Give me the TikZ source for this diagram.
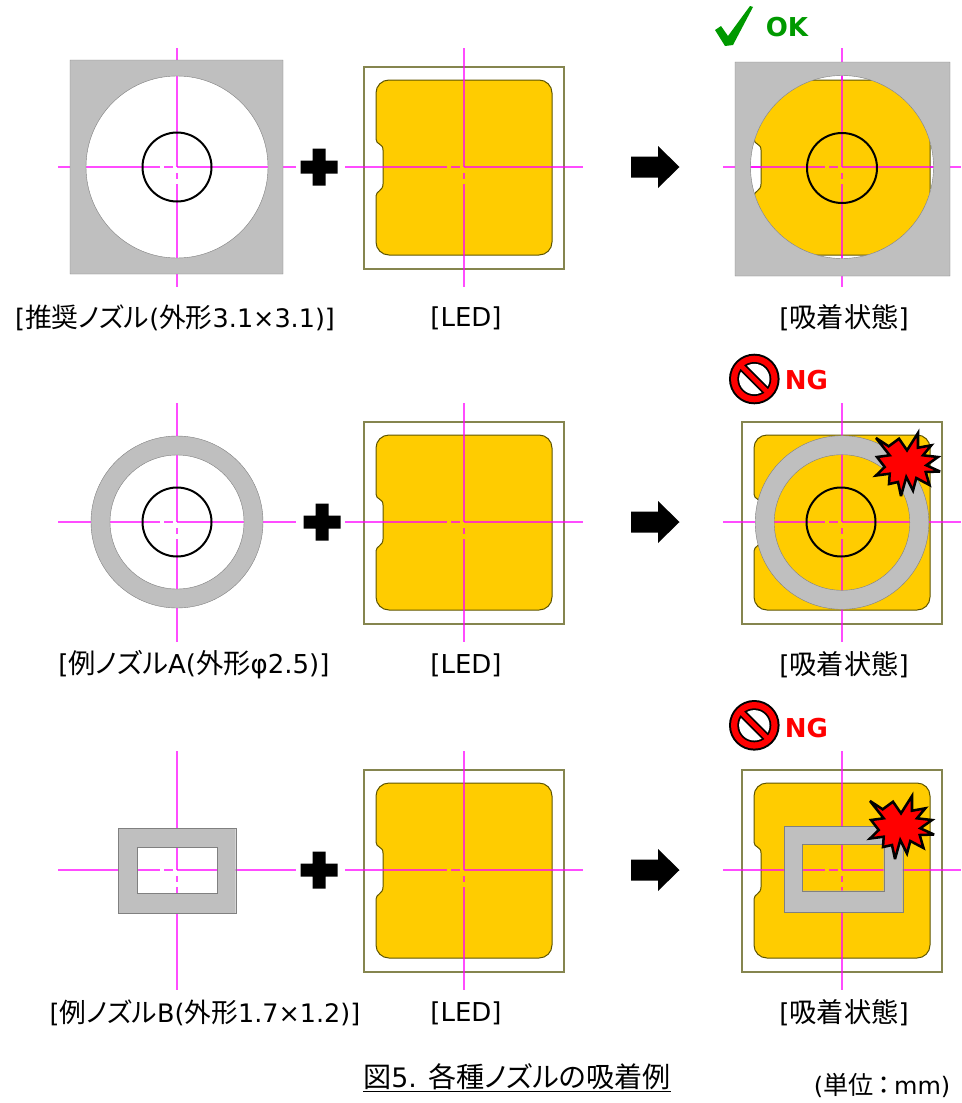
\documentclass[tikz,border=0pt]{standalone}
\usepackage{fontspec}
\setmainfont{DejaVu Sans}
\newfontfamily\jpfont[RawFeature=+palt,Scale=1.05]{Noto Sans CJK JP}
\usepackage{xcolor}
\usepackage{tikz}
\usetikzlibrary{positioning,calc}

\definecolor{ledgold}{HTML}{FFCC00}
\definecolor{ledline}{HTML}{5F5500}
\definecolor{boxline}{HTML}{85854F}
\definecolor{nozzlegray}{HTML}{BFBFBF}
\definecolor{okgreen}{HTML}{009900}
\definecolor{centerpink}{HTML}{FF00FF}

\tikzset{
    nozzle/.style={fill=nozzlegray, draw=gray, line width=0.3pt, even odd rule},
    centerline/.style={draw=centerpink, draw opacity=0.7, line width=1.05pt},
    ledbox/.style={draw=boxline, line width=0.9pt},
    ledpad/.style={fill=ledgold, draw=ledline, line width=0.75pt},
    tipcircle/.style={draw=black, line width=1.5pt},
    solidmark/.style={fill=black},
    burst/.style={fill=red, draw=black, line width=1.9pt, miter limit=4},
    caption/.style={font=\fontsize{19.5}{24}\selectfont, inner sep=0pt},
    longcaption/.style={font=\fontsize{19.1}{24}\selectfont, inner sep=0pt},
    okng/.style={font=\fontsize{19.5}{24}\selectfont\bfseries, inner sep=0pt}
}

% pad outline around the origin of the scope
\newcommand{\padpath}{(-75,-87) -- (75,-87) .. controls (82.2,-87) and (88,-81.2) .. (88,-74)
    -- (88,75) .. controls (88,82.2) and (82.2,88) .. (75,88) -- (-75,88)
    .. controls (-82.2,88) and (-88,82.2) .. (-88,75) -- (-88,29)
    .. controls (-88,24) and (-81,24) .. (-81,17) -- (-81,-17)
    .. controls (-81,-24) and (-88,-22) .. (-88,-28) -- (-88,-74)
    .. controls (-88,-81.2) and (-82.2,-87) .. (-75,-87) -- cycle}

% centre lines with the gaps next to the middle
\newcommand{\centerlines}[3]{
    \begin{scope}[shift={(#1,#2)}]
        \draw[centerline] (-#3,0) -- (-17,0) (-13,0) -- (-4,0) (0,0) -- (#3,0);
        \draw[centerline] (0,-119) -- (0,0) (0,6) -- (0,12) (0,17) -- (0,120);
    \end{scope}
}

\newcommand{\plusmark}[2]{
    \fill[solidmark, shift={(#1,#2)}] (-6.5,-18.5) -- (6.5,-18.5) -- (6.5,-6.5) -- (18.5,-6.5) -- (18.5,6.5)
        -- (6.5,6.5) -- (6.5,18.5) -- (-6.5,18.5) -- (-6.5,6.5) -- (-18.5,6.5) -- (-18.5,-6.5) -- (-6.5,-6.5) -- cycle;
}

\newcommand{\blockarrow}[1]{
    \fill[solidmark, shift={(631,#1)}] (0,-10.5) -- (27,-10.5) -- (27,-21) -- (48.5,0) -- (27,21) -- (27,10.5) -- (0,10.5) -- cycle;
}

\newcommand{\ngmark}[2]{
    \begin{scope}[shift={(#1,#2)}]
        \fill[black] (0,0) circle[radius=25.3];
        \fill[red] (0,0) circle[radius=23.3];
        \fill[black] (0,0) circle[radius=17];
        \fill[white] (0,0) circle[radius=15.2];
        \draw[black, line width=6.2pt] (-11.5,-11.5) -- (11.5,11.5);
        \draw[red, line width=3.6pt] (-13.5,-13.5) -- (13.5,13.5);
    \end{scope}
}

\newcommand{\burstmark}[2]{
    \draw[burst, shift={(#1,#2)}] (-31,-24) -- (-18.3,-15.7) -- (-8,-23.3) -- (0,-11.7) -- (11,-29) -- (11,-14.3)
        -- (24.3,-16.7) -- (16,-6.7) -- (31,-5) -- (19.3,3.3) -- (33,9.5) -- (18.7,10) -- (22.5,23) -- (9.3,16)
        -- (6,28.5) -- (-0.7,15) -- (-6,34) -- (-9,20) -- (-18,22) -- (-17.3,11.7) -- (-31,13.5) -- (-22.3,5)
        -- (-30,-5) -- (-17.3,-6.7) -- cycle;
}

\begin{document}
\begin{tikzpicture}[x=0.75pt, y=-0.75pt]
\useasboundingbox (0,0) rectangle (961,1103);

% Row 1: recommended nozzle
\centerlines{177}{167}{119}
\fill[nozzle] (70,60) rectangle (283,274) (177,167) circle[radius=91];
\draw[tipcircle] (177,167) circle[radius=34.5];
\plusmark{319}{167}
\begin{scope}[shift={(464,167)}]
    \draw[ledbox] (-100,-100) rectangle (100,102);
    \filldraw[ledpad] \padpath;
\end{scope}
\centerlines{464}{167}{119}
\blockarrow{167}
\centerlines{842}{167}{119}
\begin{scope}[shift={(842,167)}]
    \clip (0,0) circle[radius=91.5];
    \filldraw[ledpad] \padpath;
    \draw[centerline] (-119,0) -- (-17,0) (-13,0) -- (-4,0) (0,0) -- (119,0);
    \draw[centerline] (0,-119) -- (0,0) (0,6) -- (0,12) (0,17) -- (0,120);
\end{scope}
\fill[nozzle] (735,62) rectangle (950,276) (842,167) circle[radius=91.5];
\draw[tipcircle] (842,168) circle[radius=35];
\fill[okgreen] (715,30) -- (721,26) -- (728,36) -- (750,6) -- (753,7) -- (733,45) -- (725,46) -- cycle;
\node[okng, text=okgreen] (oklabel) at (787,27) {OK};
\node[longcaption] (nozzleok) at (175,318) {[{\jpfont 推奨ノズル}({\jpfont 外形}3.1×3.1)]};
\node[caption] (ledone) at (466,318) {[LED]};
\node[caption] (stateone) at (844,318) {[{\jpfont 吸着状態}]};

% Row 2: nozzle A
\centerlines{177}{522}{119}
\fill[nozzle] (177,522) circle[radius=86] (177,522) circle[radius=67];
\draw[tipcircle] (177,522) circle[radius=34.5];
\plusmark{322}{522}
\begin{scope}[shift={(464,522)}]
    \draw[ledbox] (-100,-100) rectangle (100,102);
    \filldraw[ledpad] \padpath;
\end{scope}
\centerlines{464}{522}{119}
\blockarrow{522}
\begin{scope}[shift={(842,522)}]
    \draw[ledbox] (-100,-100) rectangle (100,102);
    \filldraw[ledpad] \padpath;
\end{scope}
\centerlines{842}{522}{119}
\fill[nozzle] (842,522.5) circle[radius=86.8] (842,522.5) circle[radius=67.8];
\draw[tipcircle] (841,522) circle[radius=34.5];
\burstmark{907}{462}
\ngmark{754.3}{379}
\node[okng, text=red] (nglabelone) at (806.5,380) {NG};
\node[caption] (nozzlea) at (194,665) {[{\jpfont 例ノズル}A({\jpfont 外形}φ2.5)]};
\node[caption] (ledtwo) at (466,665) {[LED]};
\node[caption] (statetwo) at (844,665) {[{\jpfont 吸着状態}]};

% Row 3: nozzle B
\centerlines{177}{870}{119}
\fill[nozzle] (118.3,828.3) rectangle (235.7,913.3) (137.3,847.3) rectangle (217,893.3);
\plusmark{319}{870}
\begin{scope}[shift={(464,870)}]
    \draw[ledbox] (-100,-100) rectangle (100,102);
    \filldraw[ledpad] \padpath;
\end{scope}
\centerlines{464}{870}{119}
\blockarrow{870}
\begin{scope}[shift={(842,870)}]
    \draw[ledbox] (-100,-100) rectangle (100,102);
    \filldraw[ledpad] \padpath;
\end{scope}
\centerlines{842}{870}{119}
\fill[nozzle] (784,826) rectangle (902.7,912) (802.3,844.3) rectangle (883.7,890.7);
\burstmark{901}{825}
\ngmark{754.3}{725.3}
\node[okng, text=red] (nglabeltwo) at (806.5,728) {NG};
\node[longcaption] (nozzleb) at (205,1013) {[{\jpfont 例ノズル}B({\jpfont 外形}1.7×1.2)]};
\node[caption] (ledthree) at (466,1013) {[LED]};
\node[caption] (statethree) at (844,1013) {[{\jpfont 吸着状態}]};

% Title and unit
\node[inner sep=0pt, font=\fontsize{20.1}{24}\selectfont] (title) at (517,1078) {\underline{{\jpfont 図}5. {\jpfont 各種ノズルの吸着例}}};
\node[inner sep=0pt, font=\fontsize{18}{22}\selectfont] (unit) at (882,1085) {({\jpfont 単位\hspace{3pt}：\hspace{3pt}}mm)};

\end{tikzpicture}
\end{document}
